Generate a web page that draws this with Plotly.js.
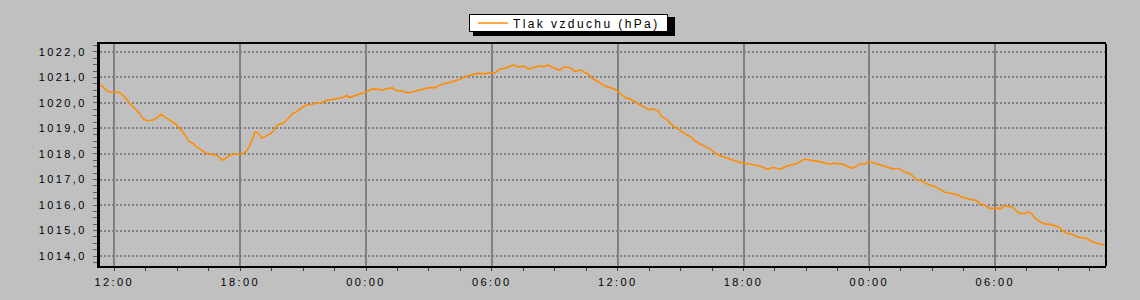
<!DOCTYPE html>
<html>
<head>
<meta charset="utf-8">
<script src="https://cdn.plot.ly/plotly-3.0.1.min.js"></script>
<style>
  html, body { margin: 0; padding: 0; background: #C0C0C0; }
  #chart { width: 1140px; height: 300px; }
  svg text { letter-spacing: 2.4px; }
</style>
</head>
<body>
<div id="chart"></div>
<script>
// ---- data ----
const days = ['2024-02-12', '2024-02-13', '2024-02-14'];

const timesDay1 = ['11:19','11:27','11:36','11:46','12:00','12:14','12:24','12:33','12:43','12:53',
  '13:02','13:12','13:21','13:31','13:40','13:50','13:59','14:14','14:23','14:33',
  '14:47','14:57','15:06','15:16','15:25','15:35','15:44','15:54','16:03','16:13',
  '16:22','16:37','16:51','17:00','17:08','17:20','17:29','17:43','17:58','18:07',
  '18:17','18:26','18:36','18:43','18:52','19:02','19:11','19:25','19:35','19:45',
  '19:54','20:03','20:13','20:20','20:32','20:42','20:56','21:10','21:25','21:39',
  '21:53','22:03','22:22','22:41','22:55','23:05','23:14','23:24','23:33','23:48'];
const pressureDay1 = [1020.71,1020.64,1020.51,1020.43,1020.42,1020.42,1020.31,1020.18,1019.99,1019.85,
  1019.70,1019.60,1019.40,1019.31,1019.31,1019.33,1019.40,1019.56,1019.46,1019.37,
  1019.27,1019.16,1019.01,1018.87,1018.68,1018.48,1018.42,1018.29,1018.22,1018.12,
  1018.03,1017.99,1017.96,1017.87,1017.76,1017.83,1017.95,1017.99,1017.99,1018.03,
  1018.09,1018.29,1018.68,1018.87,1018.81,1018.62,1018.68,1018.78,1018.90,1019.11,
  1019.18,1019.20,1019.33,1019.44,1019.60,1019.66,1019.82,1019.92,1019.95,1020.01,
  1020.01,1020.09,1020.15,1020.18,1020.22,1020.29,1020.21,1020.25,1020.31,1020.38];

const timesDay2 = ['00:02','00:16','00:31','00:45','00:59','01:14','01:28','01:42','01:57','02:11',
  '02:25','02:40','02:54','03:08','03:18','03:27','03:41','04:00','04:15','04:29',
  '04:43','04:58','05:12','05:26','05:41','05:55','06:04','06:14','06:23','06:38',
  '06:52','07:03','07:11','07:21','07:30','07:40','07:49','08:04','08:13','08:27',
  '08:42','08:51','09:06','09:15','09:25','09:39','09:49','09:58','10:12','10:22',
  '10:32','10:41','10:50','11:00','11:10','11:22','11:38','11:52','12:07','12:21',
  '12:35','12:50','13:04','13:18','13:28','13:42','13:56','14:06','14:20','14:35',
  '14:49','15:03','15:18','15:32','15:41','15:56','16:10','16:24','16:39','16:53',
  '17:07','17:22','17:36','17:50','18:04','18:19','18:33','18:47','19:02','19:11',
  '19:21','19:30','19:45','19:59','20:13','20:28','20:42','20:56','21:10','21:25',
  '21:39','21:53','22:08','22:17','22:31','22:46','22:55','23:08','23:19','23:33',
  '23:48','23:57'];
const pressureDay2 = [1020.44,1020.54,1020.54,1020.51,1020.54,1020.60,1020.48,1020.48,1020.40,1020.42,
  1020.48,1020.54,1020.58,1020.60,1020.60,1020.67,1020.75,1020.80,1020.86,1020.93,
  1021.03,1021.09,1021.14,1021.16,1021.14,1021.19,1021.16,1021.23,1021.32,1021.36,
  1021.45,1021.49,1021.42,1021.42,1021.45,1021.36,1021.33,1021.40,1021.45,1021.42,
  1021.49,1021.40,1021.32,1021.29,1021.40,1021.40,1021.33,1021.23,1021.29,1021.23,
  1021.16,1021.06,1020.93,1020.87,1020.77,1020.67,1020.60,1020.54,1020.38,1020.21,
  1020.16,1020.03,1019.92,1019.83,1019.74,1019.76,1019.69,1019.46,1019.36,1019.14,
  1019.01,1018.87,1018.75,1018.64,1018.51,1018.39,1018.31,1018.20,1018.03,1017.93,
  1017.87,1017.80,1017.74,1017.67,1017.64,1017.60,1017.57,1017.53,1017.44,1017.40,
  1017.46,1017.46,1017.40,1017.50,1017.56,1017.61,1017.70,1017.80,1017.76,1017.74,
  1017.70,1017.64,1017.60,1017.64,1017.61,1017.60,1017.53,1017.44,1017.50,1017.61,
  1017.61,1017.70];

const timesDay3 = ['00:11','00:26','00:40','00:54','01:09','01:23','01:33','01:44','01:56','02:06',
  '02:16','02:30','02:41','02:54','03:08','03:22','03:35','03:46','04:00','04:15',
  '04:24','04:39','04:53','05:07','05:17','05:31','05:43','05:55','06:05','06:19',
  '06:25','06:38','06:50','07:02','07:11','07:25','07:35','07:45','07:54','08:08',
  '08:23','08:37','08:51','09:01','09:11','09:25','09:39','09:53','10:08','10:22',
  '10:36','10:51','11:05','11:14'];
const pressureDay3 = [1017.66,1017.60,1017.53,1017.46,1017.41,1017.44,1017.37,1017.27,1017.24,1017.09,
  1016.98,1016.95,1016.85,1016.78,1016.72,1016.62,1016.50,1016.48,1016.43,1016.39,
  1016.30,1016.26,1016.20,1016.17,1016.04,1016.00,1015.87,1015.87,1015.89,1015.87,
  1015.97,1015.93,1015.91,1015.74,1015.67,1015.67,1015.74,1015.64,1015.48,1015.35,
  1015.25,1015.24,1015.18,1015.15,1015.02,1014.89,1014.86,1014.76,1014.72,1014.69,
  1014.56,1014.50,1014.46,1014.42];

const seriesName = 'Tlak vzduchu (hPa)';
const xRange = ['2024-02-12 11:19', '2024-02-14 11:17'];
const yRange = [1013.61, 1022.31];

// ---- build trace ----
const x = [].concat(
  timesDay1.map(t => days[0] + ' ' + t),
  timesDay2.map(t => days[1] + ' ' + t),
  timesDay3.map(t => days[2] + ' ' + t)
);
const y = [].concat(pressureDay1, pressureDay2, pressureDay3);

const FONT = 'Liberation Sans, Arial, sans-serif';

const trace = {
  type: 'scatter', mode: 'lines', name: seriesName,
  x: x, y: y,
  line: { color: '#FF8C00', width: 1.6 }
};

// pixel helpers for the legend frame (paper coordinates of a 1140x300 page)
const PL = 100, PR = 1106, PT = 44, PB = 266;
const px = v => (v - PL) / (PR - PL);
const py = v => (PB - v) / (PB - PT);

const layout = {
  width: 1140, height: 300,
  paper_bgcolor: '#C0C0C0', plot_bgcolor: '#C0C0C0',
  margin: { l: 100, r: 34, t: 44, b: 34, pad: 0, autoexpand: false },
  separators: ',.',
  font: { family: FONT, size: 11, color: '#000' },
  showlegend: true,
  legend: {
    x: px(473), y: py(8.5), xanchor: 'left', yanchor: 'top',
    bgcolor: 'rgba(0,0,0,0)', borderwidth: 0,
    font: { family: FONT, size: 12, color: '#000' },
    orientation: 'h'
  },
  xaxis: {
    type: 'date', range: xRange,
    dtick: 6 * 3600 * 1000, tick0: '2024-02-12 00:00', tickformat: '%H:%M',
    ticks: 'outside', ticklen: 3, tickcolor: '#404040', tickwidth: 1,
    ticklabelstandoff: 2,
    showgrid: true, gridcolor: '#808080', gridwidth: 2,
    showline: true, linecolor: '#000', linewidth: 2, mirror: true,
    zeroline: false,
    minor: { dtick: 1.5 * 3600 * 1000, ticks: 'outside', ticklen: 3, tickcolor: '#404040', showgrid: false },
    tickfont: { family: FONT, size: 11, color: '#000' }
  },
  yaxis: {
    range: yRange, dtick: 1, tick0: 1014, tickformat: '.1f',
    ticks: 'outside', ticklen: 4, tickcolor: '#606060', tickwidth: 1,
    ticklabelstandoff: 4,
    showgrid: true, gridcolor: '#808080', gridwidth: 2, griddash: '2px,2px',
    showline: true, linecolor: '#000', linewidth: 3,
    zeroline: false,
    minor: { dtick: 0.25, ticks: 'outside', ticklen: 4, tickcolor: '#606060', showgrid: false },
    tickfont: { family: FONT, size: 11, color: '#000' }
  },
  shapes: [
    { type: 'line', xref: 'paper', yref: 'paper', x0: 1, x1: 1, y0: 0, y1: 1,
      line: { color: '#000', width: 2 } },
    // legend shadow
    { type: 'rect', xref: 'paper', yref: 'paper', x0: px(473), x1: px(675), y0: py(36), y1: py(17),
      fillcolor: '#000', line: { width: 0 }, layer: 'above' },
    // legend box
    { type: 'rect', xref: 'paper', yref: 'paper', x0: px(469.5), x1: px(667.5), y0: py(31.5), y1: py(14.5),
      fillcolor: '#FFFFFF', line: { color: '#000', width: 1 }, layer: 'above' }
  ]
};

Plotly.newPlot('chart', [trace], layout, { displayModeBar: false, staticPlot: true });
</script>
</body>
</html>
